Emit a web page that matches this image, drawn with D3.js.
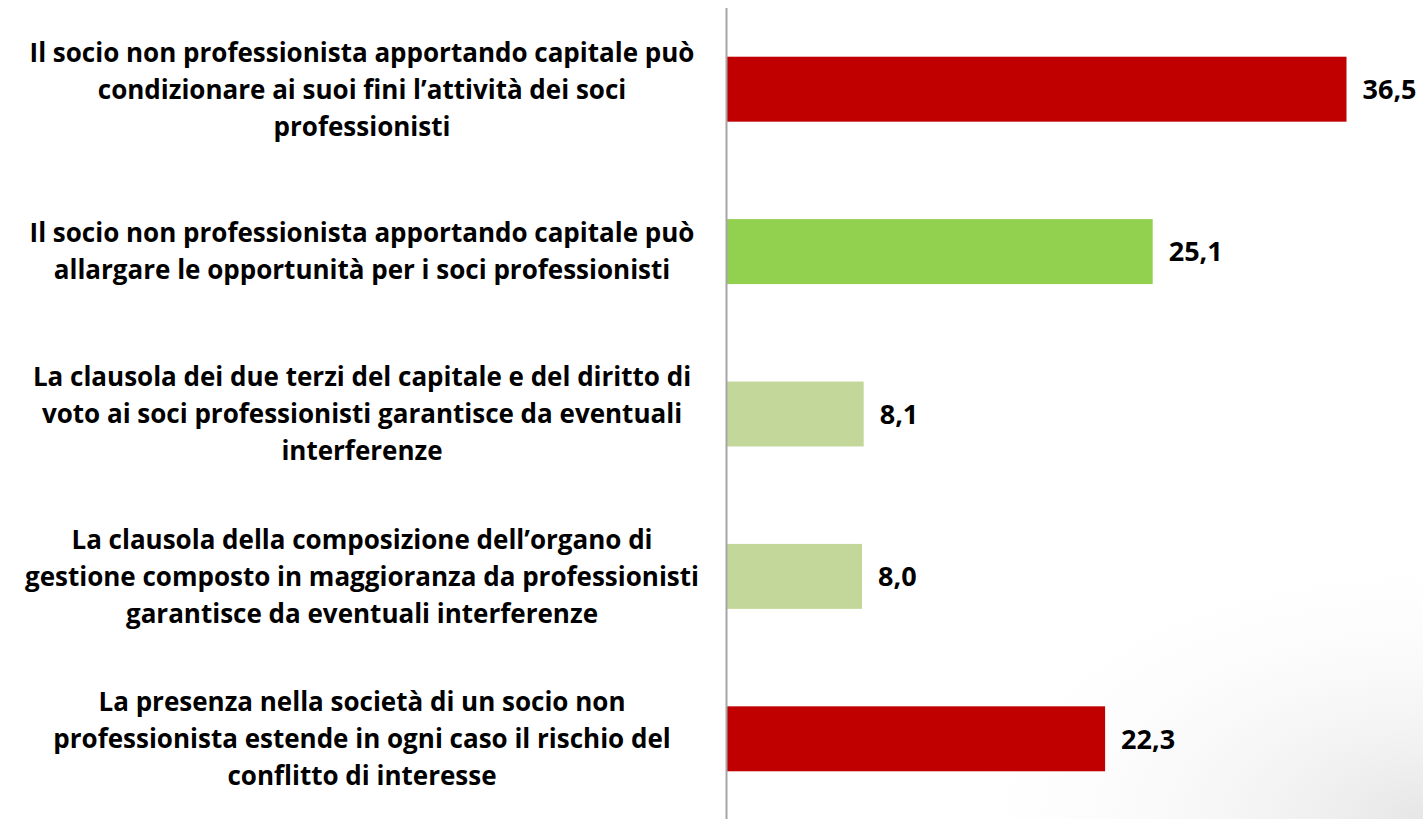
<!DOCTYPE html>
<html>
<head>
<meta charset="utf-8">
<script src="https://cdn.jsdelivr.net/npm/d3@7"></script>
<style>
  html, body { margin: 0; padding: 0; background: #fff; }
  svg { display: block; }
  text { font-family: "Open Sans", Lato, sans-serif; font-weight: 700; fill: #000; }
</style>
</head>
<body>
<svg id="chart" width="1423" height="819"></svg>
<script>
// categories, one entry per line of the wrapped label
const categories = [
  ["Il socio non professionista apportando capitale può", "condizionare ai suoi fini l\u2019attività dei soci", "professionisti"],
  ["Il socio non professionista apportando capitale può", "allargare le opportunità per i soci professionisti"],
  ["La clausola dei due terzi del capitale e del diritto di", "voto ai soci professionisti garantisce da eventuali", "interferenze"],
  ["La clausola della composizione dell\u2019organo di", "gestione composto in maggioranza da professionisti", "garantisce da eventuali interferenze"],
  ["La presenza nella società di un socio non", "professionista estende in ogni caso il rischio del", "conflitto di interesse"]
];
const values = [36.5, 25.1, 8.1, 8.0, 22.3];
const barColors = ["#C00000", "#92D050", "#C4D79B", "#C4D79B", "#C00000"];

const W = 1423, H = 819;
const x0 = 726;
const svg = d3.select('#chart');

// faint slide shading in the lower right corner
const defs = svg.append('defs');
const rg = defs.append('radialGradient').attr('id', 'shade')
  .attr('cx', 1).attr('cy', 1).attr('r', 0.35);
rg.append('stop').attr('offset', 0).attr('stop-color', '#e6e6e6');
rg.append('stop').attr('offset', 1).attr('stop-color', '#fff').attr('stop-opacity', 0);
svg.append('rect').attr('width', W).attr('height', H).attr('fill', 'url(#shade)');

const x = d3.scaleLinear().domain([0, 40]).range([x0, x0 + 680]);
const y = d3.scaleBand().domain(d3.range(values.length)).range([8, 820]).paddingInner(0.6).paddingOuter(0.3);

svg.append('g').selectAll('rect').data(values).join('rect')
  .attr('x', x(0))
  .attr('y', (d, i) => y(i))
  .attr('width', d => x(d) - x(0))
  .attr('height', y.bandwidth())
  .attr('fill', (d, i) => barColors[i]);

// vertical category axis line
svg.append('line')
  .attr('x1', x0 + 0.5).attr('x2', x0 + 0.5)
  .attr('y1', 8).attr('y2', H)
  .attr('stroke', '#a6a6a6').attr('stroke-width', 2);

// value labels
const fmt = v => d3.format('.1f')(v).replace('.', ',');
svg.append('g').selectAll('text').data(values).join('text')
  .attr('x', d => x(d) + 16)
  .attr('y', (d, i) => y(i) + y.bandwidth() / 2)
  .attr('dy', '0.36em')
  .style('font-size', '27px')
  .text(fmt);

// category labels, centred
const fs = 26, lineH = 37;
const lab = svg.append('g').selectAll('text').data(categories).join('text')
  .attr('text-anchor', 'middle')
  .attr('y', (d, i) => y(i) + y.bandwidth() / 2)
  .style('font-size', fs + 'px');
lab.selectAll('tspan').data(d => d.map((s, k) => ({ s, k, n: d.length }))).join('tspan')
  .attr('x', 362)
  .attr('dy', t => t.k === 0 ? ((-(t.n - 1) / 2) * lineH / fs + 0.36) + 'em' : (lineH / fs) + 'em')
  .text(t => t.s);
</script>
</body>
</html>
